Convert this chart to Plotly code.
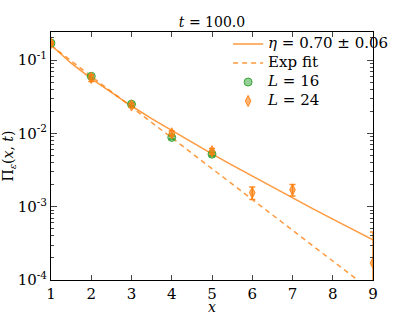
import plotly.graph_objects as go

# Fit curves
fit_x = [1, 1.5, 2, 2.5, 3, 3.5, 4, 4.5, 5, 5.5, 6, 6.5, 7, 7.5, 8, 8.5, 9]
fit_y = [0.16, 0.0905, 0.0556, 0.0357, 0.0236, 0.0159, 0.0109, 0.00752, 0.00525,
         0.00369, 0.00261, 0.00185, 0.00132, 0.000943, 0.000677, 0.000488, 0.000352]
exp_x = [1, 9]
exp_y = [0.158, 6.9e-5]

# Data series
x16 = [1, 2, 3, 4, 5]
y16 = [0.17, 0.060, 0.025, 0.0088, 0.0052]
e16 = [0.005, 0.003, 0.001, 0.0004, 0.0003]

x24 = [1, 2, 3, 4, 5, 6, 7, 9]
y24 = [0.17, 0.057, 0.024, 0.0100, 0.0057, 0.00155, 0.00170, 0.00017]
e24_plus = [0.006, 0.006, 0.0015, 0.0008, 0.0005, 0.0003, 0.0003, 0.00028]
e24_minus = [0.006, 0.006, 0.0015, 0.0008, 0.0005, 0.0003, 0.0003, 0.0001]

xticks = [1, 2, 3, 4, 5, 6, 7, 8, 9]
yticks = [1e-4, 1e-3, 1e-2, 1e-1]
ytext = ["10<sup>-4</sup>", "10<sup>-3</sup>", "10<sup>-2</sup>", "10<sup>-1</sup>"]

orange_line = "rgba(255,127,14,0.8)"
serif = "DejaVu Serif"


def big(s):
    return '<span style="font-size:15px">' + s + '</span>'


fig = go.Figure()
fig.add_trace(go.Scatter(x=fit_x, y=fit_y, mode="lines",
                         line=dict(color=orange_line, width=1.5),
                         name=big("<i>η</i> = 0.70 ± 0.06")))
fig.add_trace(go.Scatter(x=exp_x, y=exp_y, mode="lines",
                         line=dict(color=orange_line, width=1.5, dash="5px,4px"),
                         name=big("Exp fit")))
fig.add_trace(go.Scatter(x=x16, y=y16, mode="markers",
                         marker=dict(symbol="circle", size=8, color="rgba(44,160,44,0.5)",
                                     line=dict(color="rgba(44,160,44,0.9)", width=1)),
                         error_y=dict(type="data", array=e16, color="rgba(44,160,44,0.9)",
                                      thickness=1.5, width=3),
                         name=big("<i>L</i> = 16")))
fig.add_trace(go.Scatter(x=x24, y=y24, mode="markers",
                         marker=dict(symbol="diamond-tall", size=8, color="rgba(255,127,14,0.6)",
                                     line=dict(color="rgba(255,127,14,0.9)", width=1)),
                         error_y=dict(type="data", symmetric=False, array=e24_plus,
                                      arrayminus=e24_minus, color="rgba(255,127,14,0.9)",
                                      thickness=1.5, width=3),
                         name=big("<i>L</i> = 24")))

fig.update_layout(
    width=415, height=312,
    margin=dict(l=51, r=42, t=32, b=32, autoexpand=False),
    paper_bgcolor="white", plot_bgcolor="white",
    font=dict(family=serif, color="black"),
    title=dict(text="<i>t</i> = 100.0", x=0.5, xref="paper", xanchor="center",
               y=0.9295, yref="container", yanchor="middle",
               font=dict(size=14, family=serif)),
    showlegend=True,
    legend=dict(x=0.55, y=1.01, xanchor="left", yanchor="top",
                bgcolor="rgba(0,0,0,0)", font=dict(size=9, family=serif),
                tracegroupgap=0, itemwidth=30, borderwidth=0),
    annotations=[dict(text="<i>x</i>", x=0.5, xref="paper", y=-0.107, yref="paper",
                      xanchor="center", yanchor="middle", showarrow=False,
                      font=dict(size=14, family=serif))],
)
fig.update_xaxes(range=[1, 9], tickvals=xticks, ticks="inside", ticklen=5,
                 showline=True, linecolor="black", linewidth=1, mirror="allticks",
                 showgrid=False, zeroline=False, tickfont=dict(size=15, family=serif),
                 automargin=False)
fig.update_yaxes(type="log", range=[-4, -0.618], tickvals=yticks, ticktext=ytext,
                 ticks="inside", ticklen=6,
                 showline=True, linecolor="black", linewidth=1, mirror="allticks",
                 showgrid=False, zeroline=False, tickfont=dict(size=15, family=serif),
                 automargin=False,
                 minor=dict(ticks="inside", ticklen=3, dtick="D1", showgrid=False),
                 title=dict(text="Π<sub><i>ε</i></sub>(<i>x</i>, <i>t</i>)",
                            font=dict(size=14, family=serif), standoff=0))

fig.write_html("out.html", config={"displayModeBar": False},
               post_script="document.body.style.margin='0';")
